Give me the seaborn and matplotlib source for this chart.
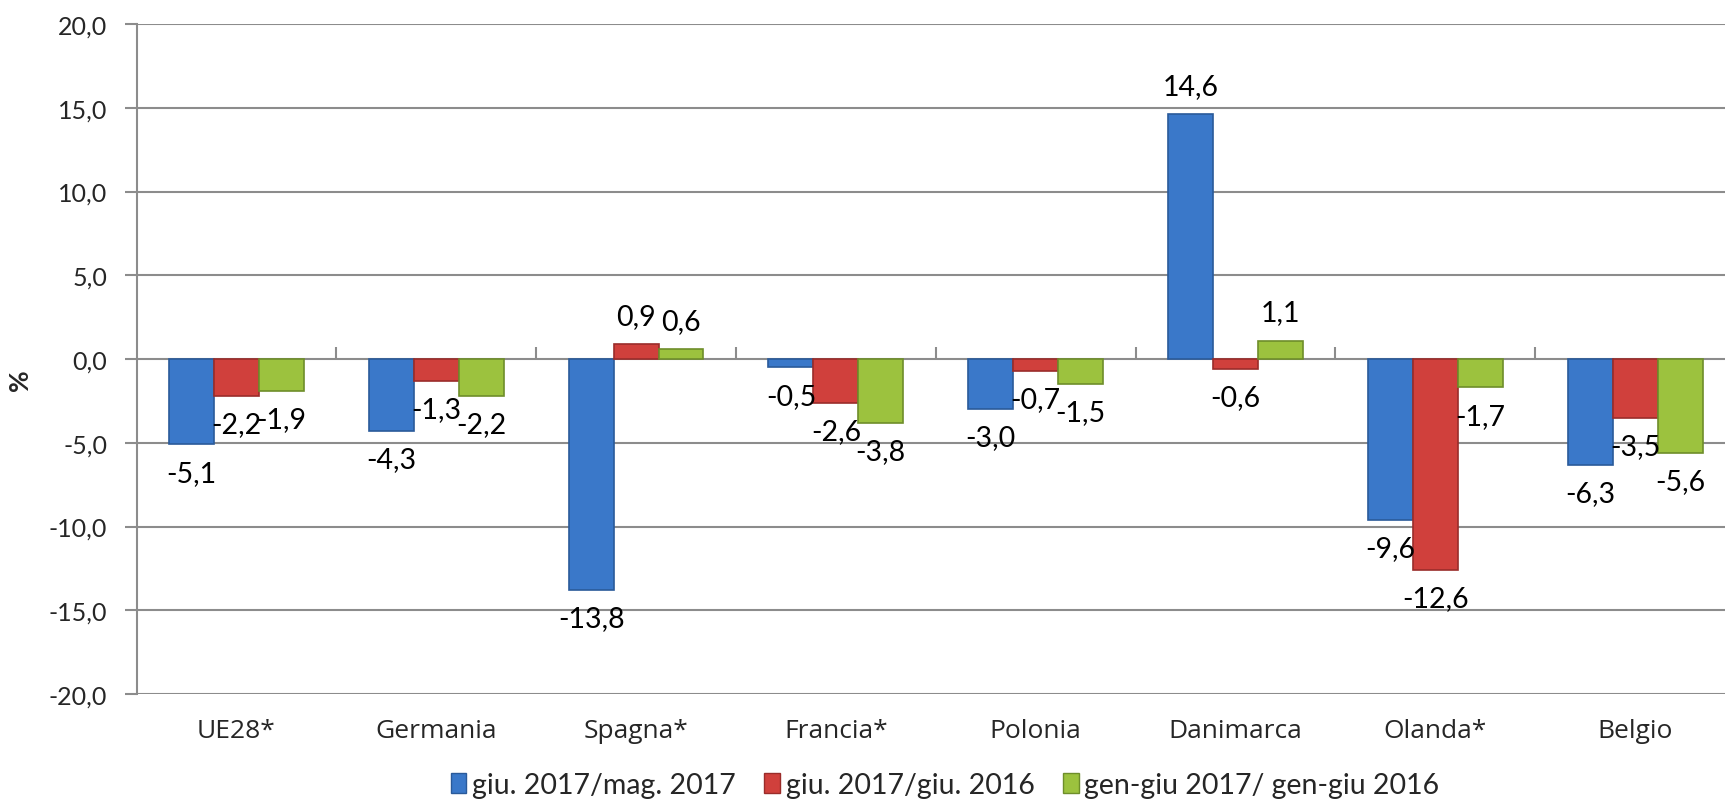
import matplotlib
matplotlib.use("Agg")
import matplotlib.pyplot as plt
import seaborn as sns
import pandas as pd
from matplotlib.patches import Patch

categories = ["UE28*", "Germania", "Spagna*", "Francia*", "Polonia", "Danimarca", "Olanda*", "Belgio"]
series_names = ["giu. 2017/mag. 2017", "giu. 2017/giu. 2016", "gen-giu 2017/ gen-giu 2016"]
s1 = [-5.1, -4.3, -13.8, -0.5, -3.0, 14.6, -9.6, -6.3]
s2 = [-2.2, -1.3, 0.9, -2.6, -0.7, -0.6, -12.6, -3.5]
s3 = [-1.9, -2.2, 0.6, -3.8, -1.5, 1.1, -1.7, -5.6]
yticks = [-20, -15, -10, -5, 0, 5, 10, 15, 20]
colors = ["#3A78C9", "#D0403C", "#9CC23E"]
edges = ["#2A5A9A", "#9A2C2A", "#6E8E2A"]

rows = []
for name, vals in zip(series_names, [s1, s2, s3]):
    for c, v in zip(categories, vals):
        rows.append({"cat": c, "serie": name, "val": v})
df = pd.DataFrame(rows)

sns.set_theme(style="white")
plt.rcParams["font.family"] = ["Lato", "DejaVu Sans"]

W, H = 1725, 803
fig = plt.figure(figsize=(W / 100, H / 100), dpi=100)
ax = fig.add_axes([136.5 / W, 1 - 695 / H, (1735 - 136.5) / W, (695 - 25) / H])

sns.barplot(data=df, x="cat", y="val", hue="serie", order=categories,
            hue_order=series_names, palette=colors, width=0.675, gap=0,
            ax=ax, legend=False, saturation=1)

for cont, ec in zip(ax.containers, edges):
    for p in cont:
        p.set_edgecolor(ec)
        p.set_linewidth(1.2)

for cont, vals in zip(ax.containers, [s1, s2, s3]):
    labels = [f"{v:.1f}".replace(".", ",") for v in vals]
    ax.bar_label(cont, labels=labels, padding=11, fontsize=20.5, color="black")

ax.set_ylim(-20, 20)
ax.set_xlim(-0.5, len(categories) - 0.5)
ax.set_yticks(yticks)
ax.set_yticklabels([f"{t:.1f}".replace(".", ",") for t in yticks], fontsize=18)
ax.yaxis.grid(True, color="#8C8C8C", linewidth=1.5)
ax.set_axisbelow(True)

for s in ["top", "right", "bottom"]:
    ax.spines[s].set_visible(False)
ax.spines["left"].set_color("#8C8C8C")
ax.spines["left"].set_linewidth(1.5)
ax.tick_params(axis="y", which="major", direction="out", length=9, width=1.5,
               color="#8C8C8C", pad=12, left=True)
ax.tick_params(axis="x", which="major", length=0, pad=17)
for lab in ax.get_xticklabels():
    lab.set_fontfamily(["Open Sans", "DejaVu Sans"])
    lab.set_fontsize(19)

sec = ax.secondary_xaxis(0.5)
sec.set_xticks([i + 0.5 for i in range(len(categories) - 1)])
sec.set_xticklabels([])
sec.tick_params(axis="x", direction="out", length=9, width=1.5, color="#8C8C8C")
sec.spines["bottom"].set_visible(False)

ax.set_xlabel("")
ax.set_ylabel("%", fontsize=19, fontweight="bold", rotation=90)
ax.yaxis.label.set_verticalalignment("center")
ax.yaxis.set_label_coords(-0.073, 0.47)

handles = [Patch(facecolor=c, edgecolor=e, label=n) for c, e, n in zip(colors, edges, series_names)]
fig.legend(handles=handles, loc="center", bbox_to_anchor=(945 / W, 1 - 786 / H),
           ncol=3, frameon=False, fontsize=20.5, handlelength=0.55, handleheight=0.75,
           handletextpad=0.2, columnspacing=1.0)

fig.savefig("out.png", dpi=100)
